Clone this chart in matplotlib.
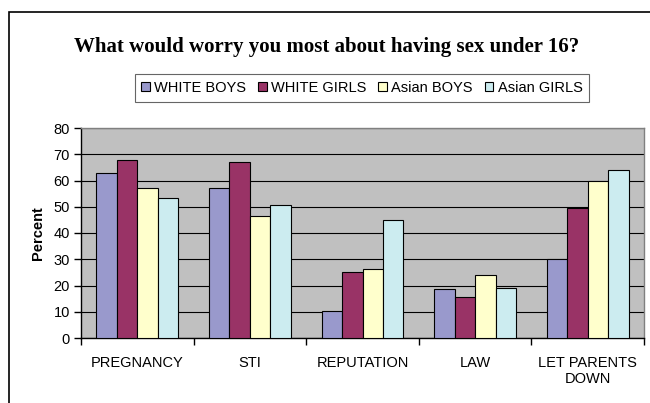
import numpy as np
import matplotlib.pyplot as plt
from matplotlib.patches import Rectangle

categories = ["PREGNANCY", "STI", "REPUTATION", "LAW", "LET PARENTS\nDOWN"]
series_names = ["WHITE BOYS", "WHITE GIRLS", "Asian BOYS", "Asian GIRLS"]
white_boys = [63.0, 57.3, 10.4, 18.5, 30.1]
white_girls = [67.9, 67.2, 25.3, 15.7, 49.5]
asian_boys = [57.3, 46.6, 26.4, 24.0, 59.8]
asian_girls = [53.2, 50.7, 45.1, 19.0, 63.9]
colors = ["#9999CC", "#993366", "#FFFFCC", "#CCECF0"]

fig = plt.figure(figsize=(6.5, 4.03), dpi=100, facecolor="white")

# outer chart border (runs off the right and bottom of the picture)
fig.patches.append(Rectangle((9 / 650, -0.1), 0.99, 1.1 - 12 / 403,
                             transform=fig.transFigure, fill=False,
                             edgecolor="black", linewidth=1.2))

ax = fig.add_axes([81 / 650, 65 / 403, 563 / 650, 210 / 403])
ax.set_facecolor("#C0C0C0")

x = np.arange(len(categories))
w = 0.182
data = [white_boys, white_girls, asian_boys, asian_girls]
bars = []
for i, vals in enumerate(data):
    b = ax.bar(x + (i - 1.5) * w, vals, width=w, color=colors[i],
               edgecolor="black", linewidth=0.8, label=series_names[i], zorder=3)
    bars.append(b)

ax.set_xlim(-0.5, 4.5)
ax.set_ylim(0, 80)
ax.set_yticks(range(0, 81, 10))
ax.yaxis.grid(True, color="black", linewidth=0.8, zorder=1)
ax.set_axisbelow(True)

ax.set_xticks(x)
ax.set_xticklabels(categories, fontsize=10.5, family="Liberation Sans")
ax.tick_params(axis="x", length=0, pad=13)
ax.set_xticks(np.arange(-0.5, 5, 1), minor=True)
ax.tick_params(axis="x", which="minor", length=5, width=1)
ax.tick_params(axis="y", length=5, width=1, labelsize=10.5, pad=3)
for lab in ax.get_yticklabels():
    lab.set_family("Liberation Sans")

for s in ["left", "bottom"]:
    ax.spines[s].set_color("black")
    ax.spines[s].set_linewidth(1)
for s in ["top", "right"]:
    ax.spines[s].set_color("#808080")
    ax.spines[s].set_linewidth(1)

ax.set_ylabel("Percent", fontsize=10.5, fontweight="bold",
              family="Liberation Sans", labelpad=6)

fig.text(327 / 650, 1 - 47 / 403, "What would worry you most about having sex under 16?",
         ha="center", va="center", fontsize=15, fontweight="bold",
         family="Liberation Serif")

leg = fig.legend(handles=bars, labels=series_names, loc="center",
                 bbox_to_anchor=(362 / 650, 1 - 88 / 403), ncol=4, frameon=True,
                 fancybox=False, edgecolor="#404040", handlelength=0.6,
                 handleheight=0.6, handletextpad=0.3, columnspacing=0.8,
                 borderpad=0.45, prop={"family": "Liberation Sans", "size": 10.5})
leg.get_frame().set_linewidth(0.8)

fig.savefig("out.png", dpi=100, facecolor="white")
